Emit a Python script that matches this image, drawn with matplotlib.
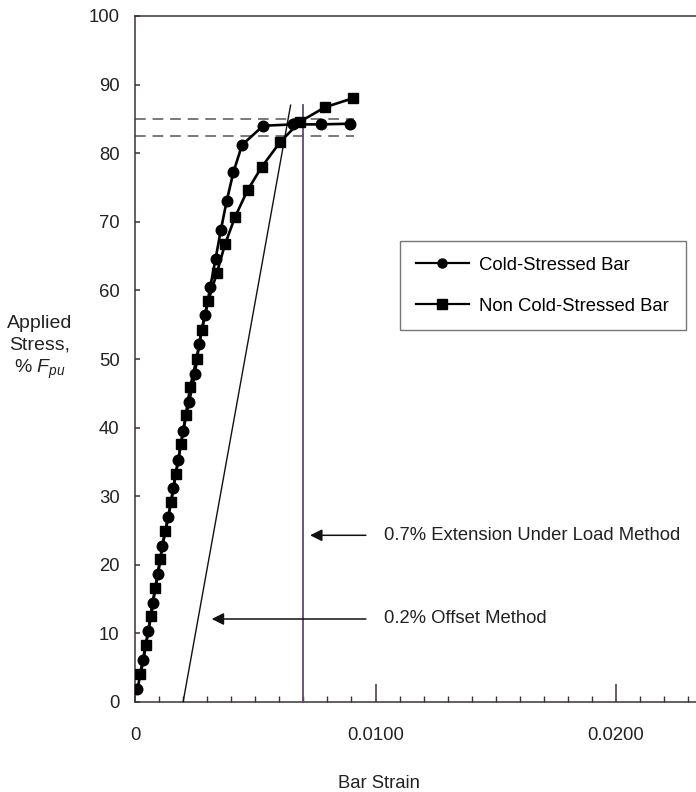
import matplotlib
matplotlib.use("Agg")
import matplotlib.pyplot as plt

plt.rcParams['font.family'] = ['Liberation Sans', 'DejaVu Sans']
plt.rcParams['mathtext.fontset'] = 'custom'
plt.rcParams['mathtext.it'] = 'Liberation Sans:italic'
plt.rcParams['mathtext.rm'] = 'Liberation Sans'

# Cold-stressed bar (circles)
cold_strain = [0.0001, 0.00035, 0.00055, 0.00073, 0.00096, 0.00114, 0.00139, 0.00159,
               0.0018, 0.0020, 0.00225, 0.00249, 0.00267, 0.00291, 0.00313, 0.00335,
               0.00357, 0.00381, 0.00409, 0.00445, 0.00533, 0.00657, 0.00772, 0.00894]
cold_stress = [1.9, 6.1, 10.3, 14.5, 18.6, 22.8, 27.0, 31.2,
               35.3, 39.5, 43.7, 47.8, 52.2, 56.4, 60.5, 64.6,
               68.8, 73.0, 77.2, 81.2, 84.0, 84.2, 84.2, 84.3]

# Non cold-stressed bar (squares)
non_strain = [0.00022, 0.00044, 0.00067, 0.00084, 0.00104, 0.00126, 0.0015, 0.0017,
              0.00191, 0.00211, 0.00229, 0.00256, 0.00277, 0.00305, 0.0034, 0.00374,
              0.00416, 0.00468, 0.00527, 0.00603, 0.00686, 0.0079, 0.00905]
non_stress = [4.1, 8.3, 12.5, 16.6, 20.8, 25.0, 29.1, 33.3,
              37.6, 41.8, 45.9, 50.0, 54.3, 58.5, 62.5, 66.7,
              70.7, 74.6, 78.0, 81.6, 84.6, 86.7, 88.0]

# construction lines
offset_x = [0.002, 0.00647]
offset_y = [0, 87]
ext_x = 0.007
ext_top = 87
dash_levels = [85, 82.5]
dash_end = 0.0091

fig = plt.figure(figsize=(6.96, 7.92), dpi=100)
ax = fig.add_axes([135/696, 90/792, 561/696, 686/792])

spine_c = '#3b3333'
txt_c = '#222222'
fs = 13.3
for s in ['left', 'bottom', 'top']:
    ax.spines[s].set_color(spine_c)
    ax.spines[s].set_linewidth(1.1)
ax.spines['right'].set_visible(False)

for lev in dash_levels:
    ax.plot([0, dash_end], [lev, lev], color='#555555', lw=1.1,
            dashes=(7, 4.5), zorder=2)

ax.plot(offset_x, offset_y, color='#111111', lw=1.0, zorder=3)
ax.plot([ext_x, ext_x], [0, ext_top], color='#5e4c6e', lw=1.3, zorder=3)

ax.plot(cold_strain, cold_stress, color='black', lw=1.9, marker='o', ms=7.6,
        label='Cold-Stressed Bar', zorder=5)
ax.plot(non_strain, non_stress, color='black', lw=1.9, marker='s', ms=6.8,
        label='Non Cold-Stressed Bar', zorder=4)

ax.set_xlim(0, 561/24050)
ax.set_ylim(0, 100)
ax.set_yticks(range(0, 101, 10))
ax.set_xticks([0, 0.01, 0.02])
ax.set_xticklabels(['0', '0.0100', '0.0200'])
ax.set_xticks([i * 0.001 for i in range(1, 24) if i % 10 != 0], minor=True)
ax.tick_params(axis='x', which='major', direction='in', length=13, width=1.1,
               color=spine_c, pad=18, labelsize=fs, labelcolor=txt_c)
ax.tick_params(axis='x', which='minor', direction='in', length=4.3, width=1.0,
               color=spine_c)
ax.tick_params(axis='y', which='major', direction='in', length=3.8, width=1.1,
               color=spine_c, pad=11, labelsize=fs, labelcolor=txt_c)

ax.set_xlabel('Bar Strain', fontsize=fs, color=txt_c)
ax.xaxis.set_label_coords((379 - 135) / 561, -(775 - 702) / 686)

fig.text(40/696, 1 - 348/792, 'Applied\nStress,\n% $F_{pu}$', ha='center', va='center',
         fontsize=14, color=txt_c, linespacing=1.33)

leg_x0 = (400 - 135) / 561
leg_y1 = (702 - 241) / 686
leg_w = (686 - 400) / 561
leg = ax.legend(loc='upper left', bbox_to_anchor=(leg_x0, leg_y1 - 0.2, leg_w, 0.2),
                mode='expand', frameon=True, fancybox=False, fontsize=fs,
                handlelength=2.9, borderpad=0.85, labelspacing=1.3,
                handletextpad=0.5, borderaxespad=0)
leg.get_frame().set_edgecolor('#555555')
leg.get_frame().set_linewidth(1.0)
for h in leg.legend_handles:
    h.set_markersize(6.5)
    h.set_linewidth(1.6)

for label, tip, yv in [('0.7% Extension Under Load Method', 0.00728, 24.3),
                       ('0.2% Offset Method', 0.00319, 12.1)]:
    ax.annotate(label, xy=(tip, yv), xytext=(0.01035, yv), va='center',
                fontsize=fs, color=txt_c,
                arrowprops=dict(arrowstyle='-|>', color='#111111', lw=1.1,
                                shrinkA=11, shrinkB=0, mutation_scale=18))

fig.savefig('out.png', dpi=100)
